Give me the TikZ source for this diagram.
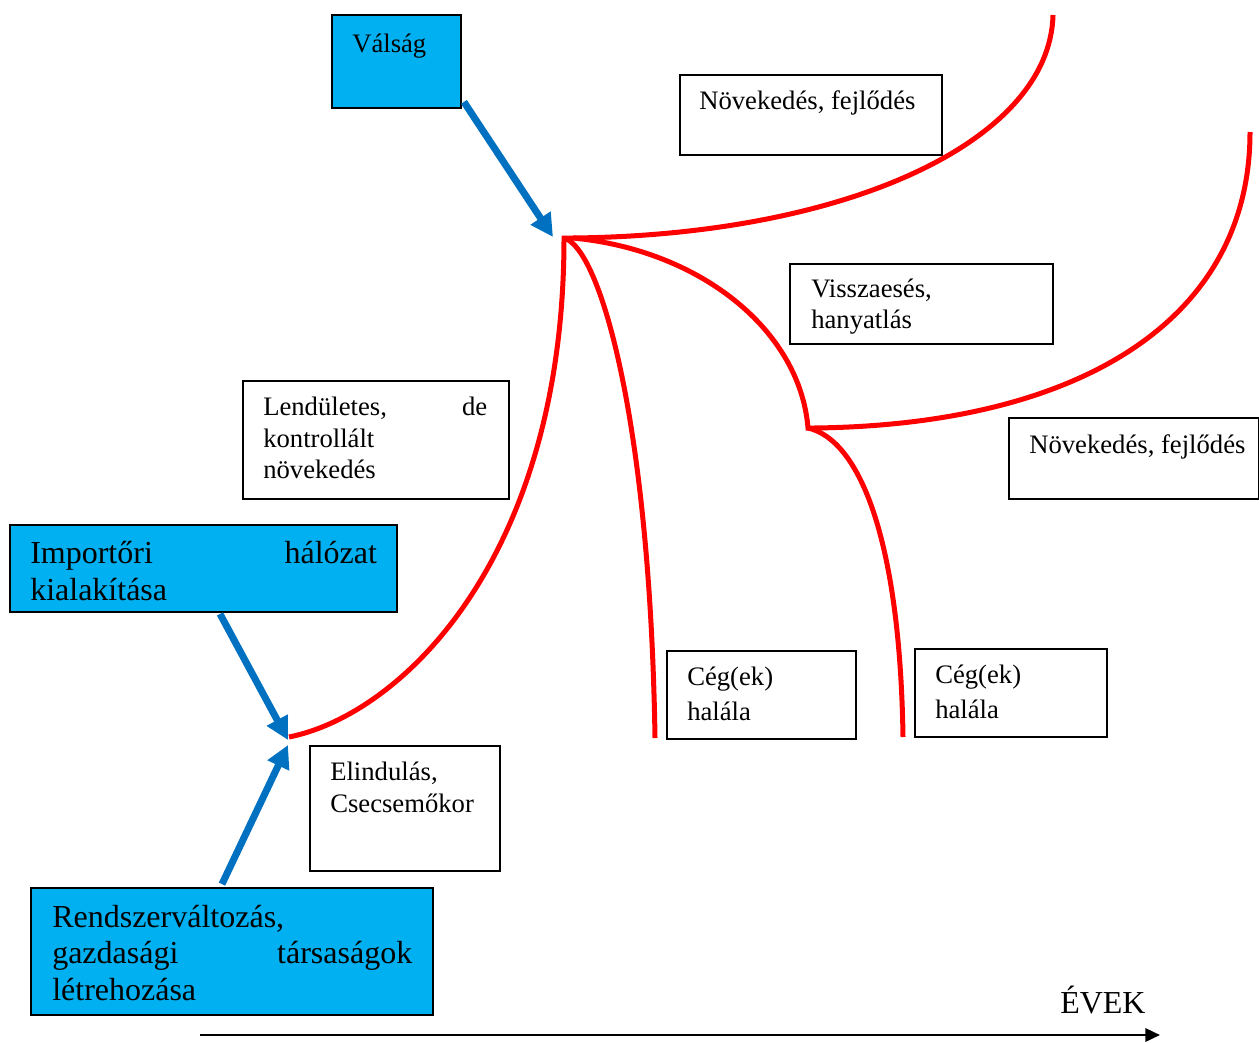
\documentclass[tikz,border=0pt]{standalone}
\usepackage{fontspec}
\setmainfont{Liberation Serif}
\usetikzlibrary{arrows.meta,fit}
\definecolor{cyanfill}{HTML}{00B0F0}
\definecolor{arrowblue}{HTML}{0070C0}
\definecolor{curvered}{HTML}{FF0000}
\begin{document}
\begin{tikzpicture}[x=0.75pt,y=-0.75pt,
  wbox/.style={draw=black,line width=1.4pt,inner sep=0pt,fill=white},
  cbox/.style={wbox,fill=cyanfill},
  sm/.style={font=\fontsize{20}{23}\selectfont,inner sep=0pt,anchor=base west},
  lg/.style={font=\fontsize{24}{28}\selectfont,inner sep=0pt,anchor=base west},
  bluearrow/.style={draw=arrowblue,line width=5.25pt,-{Triangle[length=17pt,width=17pt]}},
  redcurve/.style={draw=curvered,line width=3.75pt},
  axisarrow/.style={draw=black,line width=1.8pt,-{Triangle[length=11pt,width=10pt]}}]
\useasboundingbox (0,0) rectangle (1259,1042);

% boxes
\node[cbox,fit={(332,15)(461,108)}] (valsag) {};
\node[wbox,fit={(680,75)(942,155)}] (nov1) {};
\node[wbox,fit={(790,264)(1053,344)}] (vissza) {};
\node[wbox,fit={(243,381)(509,499)}] (lend) {};
\node[wbox,fit={(1009,418)(1259,499)}] (nov2) {};
\node[cbox,fit={(10,525)(397,612)}] (imp) {};
\node[wbox,fit={(310,746)(500,871)}] (elind) {};
\node[wbox,fit={(667,651)(856,739)}] (ceg1) {};
\node[wbox,fit={(915,649)(1107,737)}] (ceg2) {};
\node[cbox,fit={(31,888)(433,1015)}] (rend) {};

% texts
\node[sm] (tvalsag) at (352,52) {Válság};
\node[sm] (tnov1) at (699,109) {Növekedés, fejlődés};
\node[sm] (tvis1) at (811,297) {Visszaesés,};
\node[sm] (tvis2) at (811,328) {hanyatlás};
\node[sm] (tlen1) at (263,415) {\hbox to 168pt{Lendületes,\hfill de}};
\node[sm] (tlen2) at (263,447) {kontrollált};
\node[sm] (tlen3) at (263,478) {növekedés};
\node[sm] (tnov2) at (1029,453) {Növekedés, fejlődés};
\node[lg] (timp1) at (30,563) {\hbox to 260pt{Importőri\hfill hálózat}};
\node[lg] (timp2) at (30,600) {kialakítása};
\node[sm] (telin1) at (330,780) {Elindulás,};
\node[sm] (telin2) at (330,812) {Csecsemőkor};
\node[sm] (tceg1a) at (687,685) {Cég(ek)};
\node[sm] (tceg1b) at (687,720) {halála};
\node[sm] (tceg2a) at (935,683) {Cég(ek)};
\node[sm] (tceg2b) at (935,718) {halála};
\node[lg] (trend1) at (52,927) {Rendszerváltozás,};
\node[lg] (trend2) at (52,963) {\hbox to 270pt{gazdasági\hfill társaságok}};
\node[lg] (trend3) at (52,1000) {létrehozása};
\node[lg] (tevek) at (1060,1013) {ÉVEK};

% curve points
\coordinate (birth) at (289,737);
\coordinate (peak) at (564,238);
\coordinate (peakR) at (573,238);
\coordinate (grow1) at (1053,15);
\coordinate (death1) at (655,738);
\coordinate (dip) at (808,428);
\coordinate (dipR) at (814,428);
\coordinate (grow2) at (1250,132);
\coordinate (death2) at (903,737);

% red curves
\draw[redcurve] (birth) .. controls (400,715) and (564,560) .. (peak) -- (peakR)
  .. controls (850,235) and (1050,140) .. (grow1);
\draw[redcurve] (peak) .. controls (600,248) and (650,420) .. (death1);
\draw[redcurve] (peakR) .. controls (700,250) and (800,330) .. (dip) -- (dipR)
  .. controls (1080,425) and (1250,320) .. (grow2);
\draw[redcurve] (dip) .. controls (860,440) and (900,540) .. (death2);

% blue arrows
\coordinate (tipA) at (553,237);
\coordinate (tipB) at (288,740);
\coordinate (tipC) at (288,745);
\draw[bluearrow] ([shift={(2,-7)}]valsag.south east) -- (tipA);
\draw[bluearrow] ([shift={(16.5,1)}]imp.south) -- (tipB);
\draw[bluearrow] ([shift={(-10,-3)}]rend.north) -- (tipC);

% time axis
\coordinate (ax0) at (200,1035);
\coordinate (ax1) at (1160,1035);
\draw[axisarrow] (ax0) -- (ax1);
\end{tikzpicture}
\end{document}
